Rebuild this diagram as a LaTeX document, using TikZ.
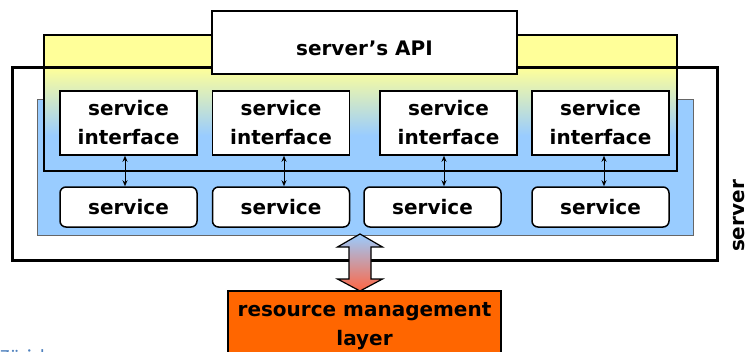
\documentclass[tikz,border=0pt]{standalone}
\usepackage{fontspec}
\setmainfont{DejaVu Sans}
\newfontfamily\footfont{Carlito}
\usetikzlibrary{arrows.meta,calc}
\definecolor{sblue}{HTML}{99CCFF}
\definecolor{syel}{HTML}{FFFF99}
\definecolor{sorange}{HTML}{FF6600}
\definecolor{sred}{HTML}{FF6644}
\definecolor{zblue}{HTML}{4F81BD}
\pgfdeclareverticalshading{ybshade}{100bp}{color(0bp)=(sblue); color(38bp)=(sblue); color(63bp)=(syel); color(100bp)=(syel)}
\begin{document}
\begin{tikzpicture}[x=1pt,y=-1pt,
  font=\bfseries\fontsize{20}{29}\selectfont,
  box/.style={draw, line width=1.5pt, fill=white, inner sep=0pt},
  ifbox/.style={box, minimum width=137pt, minimum height=64pt, align=center},
  svbox/.style={box, rounded corners=6pt, minimum width=137pt, minimum height=40pt},
  link/.style={line width=1pt, {Stealth[length=6pt,width=5pt]}-{Stealth[length=6pt,width=5pt]}}]
\useasboundingbox (0,0) rectangle (749,351);
% background layers
\node[draw=black!60, line width=0.8pt, fill=sblue, minimum width=656pt, minimum height=136pt, inner sep=0pt] (blue) at (365,167) {};
\node[draw, line width=1.5pt, shading=ybshade, minimum width=633pt, minimum height=136pt, inner sep=0pt] (yel) at (360.5,103) {};
\node[draw, line width=3pt, minimum width=705pt, minimum height=193pt, inner sep=0pt] (frame) at (364.5,163.5) {};
\node[box, minimum width=305pt, minimum height=63pt] (api) at (364.5,42.5) {};
\node (apitext) at ([yshift=-6pt]api.center) {server's API};
% service interfaces
\node[ifbox] (if1) at (128.5,123) {service\\interface};
\node[ifbox] (if2) at (281,123) {service\\interface};
\node[ifbox] (if3) at (448.5,123) {service\\interface};
\node[ifbox] (if4) at (600.5,123) {service\\interface};
% services
\node[svbox] (sv1) at (128.5,207) {service};
\node[svbox] (sv2) at (281,207) {service};
\node[svbox] (sv3) at (432.5,207) {service};
\node[svbox] (sv4) at (600.5,207) {service};
% links
\draw[link] ([xshift=-3.5pt]if1.south) -- ([xshift=-3.5pt]if1.south |- sv1.north);
\draw[link] ([xshift=3pt]if2.south) -- ([xshift=3pt]if2.south |- sv2.north);
\draw[link] ([xshift=-4.5pt]if3.south) -- ([xshift=-4.5pt]if3.south |- sv3.north);
\draw[link] ([xshift=3.5pt]if4.south) -- ([xshift=3.5pt]if4.south |- sv4.north);
% resource management layer
\node[box, fill=sorange, minimum width=273pt, minimum height=70pt, align=center] (rml) at (364.5,326) {resource management\\layer};
% big double arrow
\coordinate (at) at (360,234);
\coordinate (ab) at (360,291);
\draw[line width=1.2pt, line join=miter, top color=sblue, bottom color=sred]
  (at) -- ++(22.5,13) -- ++(-11.5,0) -- ($(ab)+(11,-12)$) -- ++(11.5,0) -- (ab)
  -- ++(-22.5,-12) -- ++(11.5,0) -- ($(at)+(-11,13)$) -- ++(-11.5,0) -- cycle;
% side label
\node[rotate=90, inner sep=0pt] (srv) at (739.5,216) {server};
% footer fragment
\node[anchor=base west, inner sep=0pt, text=zblue, font=\footfont\fontsize{20}{24}\selectfont] (zh) at (0,363) {Zürich};
\end{tikzpicture}
\end{document}
